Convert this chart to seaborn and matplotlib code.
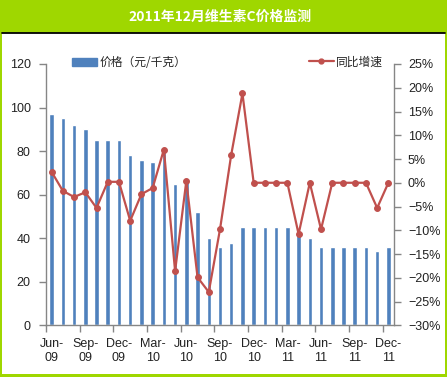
import matplotlib
matplotlib.use("Agg")
import matplotlib.pyplot as plt
import matplotlib.patches as mpatches
import matplotlib.lines as mlines
from matplotlib.ticker import FixedLocator, FuncFormatter
import seaborn as sns
import pandas as pd
import numpy as np

# ---- data ----
months = ["Jun-09", "Jul-09", "Aug-09", "Sep-09", "Oct-09", "Nov-09", "Dec-09",
          "Jan-10", "Feb-10", "Mar-10", "Apr-10", "May-10", "Jun-10", "Jul-10",
          "Aug-10", "Sep-10", "Oct-10", "Nov-10", "Dec-10", "Jan-11", "Feb-11",
          "Mar-11", "Apr-11", "May-11", "Jun-11", "Jul-11", "Aug-11", "Sep-11",
          "Oct-11", "Nov-11", "Dec-11"]
price = [97, 95, 92, 90, 85, 85, 85, 78, 76, 75, 80, 65, 66, 52, 40, 36, 38,
         45, 45, 45, 45, 45, 42, 40, 36, 36, 36, 36, 36, 34, 36]
growth = [2.3, -1.7, -3.0, -2.0, -5.3, 0.2, 0.2, -8.0, -2.4, -1.1, 7.0, -18.6,
          0.4, -19.9, -23.0, -9.8, 5.9, 18.8, 0.0, 0.0, 0.0, 0.0, -10.8, 0.0,
          -9.8, 0.0, 0.0, 0.0, 0.0, -5.3, 0.0]
title = "2011年12月维生素C价格监测"
bar_label = "价格（元/千克）"
line_label = "同比增速"

GREEN = "#9FD700"
BLUE = "#4F81BD"
RED = "#C0504D"
AXC = "#868686"

sns.set_theme(style="white")
plt.rcParams["font.family"] = ["Liberation Sans", "Noto Sans CJK SC", "DejaVu Sans"]

W, H = 447, 377
fig = plt.figure(figsize=(W / 100, H / 100), dpi=100)
fig.patch.set_facecolor(GREEN)

# white panel and black top rule
fig.patches.append(mpatches.Rectangle((2 / W, 3 / H), 443 / W, (374 - 32.5) / H,
                                      transform=fig.transFigure, facecolor="white",
                                      edgecolor="none", zorder=-5))
fig.lines.append(mlines.Line2D([2 / W, 445 / W], [1 - 32.5 / H, 1 - 32.5 / H],
                               transform=fig.transFigure, color="black", lw=1.3))
fig.text(220 / W, 1 - 17 / H, title, color="white", fontsize=10, fontweight="bold",
         ha="center", va="center", family=["Noto Sans CJK SC", "DejaVu Sans"])

left, right, top, bottom = 46, 394, 64, 325.3
ax = fig.add_axes([left / W, 1 - bottom / H, (right - left) / W, (bottom - top) / H])
ax.set_facecolor("none")

df = pd.DataFrame({"month": months, "price": price, "growth": growth,
                   "pos": np.arange(len(months))})

sns.barplot(data=df, x="pos", y="price", ax=ax, color=BLUE, width=0.4,
            saturation=1, native_scale=True, zorder=2)
ax.set_xlim(-0.5, len(months) - 0.5)
ax.set_ylim(0, 120)
ax.set_yticks(range(0, 121, 20))
ax.set_xlabel("")
ax.set_ylabel("")

ax2 = ax.twinx()
sns.lineplot(data=df, x="pos", y="growth", ax=ax2, color=RED, lw=1.6,
             marker="o", markersize=4.2, markeredgecolor=RED, zorder=3)
ax2.set_ylim(-30, 25)
ax2.set_yticks(range(-30, 26, 5))
ax2.yaxis.set_major_formatter(FuncFormatter(lambda v, p: f"{int(round(v))}%".replace("-", "−")))
ax2.set_xlabel("")
ax2.set_ylabel("")
ax2.set_xlim(-0.5, len(months) - 0.5)

# x ticks: labels at every third month, tick marks at category boundaries
lab_pos = list(range(0, len(months), 3))
labels = [months[i].replace("-", "-\n") for i in lab_pos]
ax.xaxis.set_major_locator(FixedLocator(lab_pos))
ax.set_xticklabels(labels)
ax.xaxis.set_minor_locator(FixedLocator([p - 0.5 for p in lab_pos]))
ax.tick_params(axis="x", which="major", length=0, pad=9, labelsize=9, colors="#222222")
ax.tick_params(axis="x", which="minor", length=5, width=1, color=AXC, direction="out")
for t in ax.get_xticklabels():
    t.set_linespacing(1.25)

ax.tick_params(axis="y", length=5, width=1, color=AXC, direction="out", pad=6,
               labelsize=9, labelcolor="#222222", left=True)
ax2.tick_params(axis="y", length=5, width=1, color=AXC, direction="out", pad=5,
                labelsize=9, labelcolor="#222222", right=True)
ax.tick_params(axis="x", bottom=True, which="both")

for a in (ax, ax2):
    for s in a.spines.values():
        s.set_visible(False)
ax.spines["left"].set_visible(True)
ax.spines["bottom"].set_visible(True)
ax2.spines["right"].set_visible(True)
for a, k in ((ax, "left"), (ax, "bottom"), (ax2, "right")):
    a.spines[k].set_color(AXC)
    a.spines[k].set_linewidth(1)
ax.grid(False)
ax2.grid(False)
if ax2.get_legend():
    ax2.get_legend().remove()

# legends
bar_h = mpatches.Patch(color=BLUE, label=bar_label)
line_h = mlines.Line2D([], [], color=RED, lw=1.6, marker="o", markersize=3.5, label=line_label)
cjk = {"family": ["Noto Sans CJK SC", "DejaVu Sans"], "size": 8.5}
leg1 = fig.legend(handles=[bar_h], loc="center left", bbox_to_anchor=(72 / W, 1 - 62.5 / H),
                  frameon=False, borderpad=0, borderaxespad=0, handlelength=2.1,
                  handleheight=0.7, handletextpad=0.25, prop=cjk)
leg2 = fig.legend(handles=[line_h], loc="center left", bbox_to_anchor=(309 / W, 1 - 62 / H),
                  frameon=False, borderpad=0, borderaxespad=0, handlelength=2.1,
                  handletextpad=0.2, prop=cjk)

fig.savefig("out.png", dpi=100, facecolor=fig.get_facecolor())
